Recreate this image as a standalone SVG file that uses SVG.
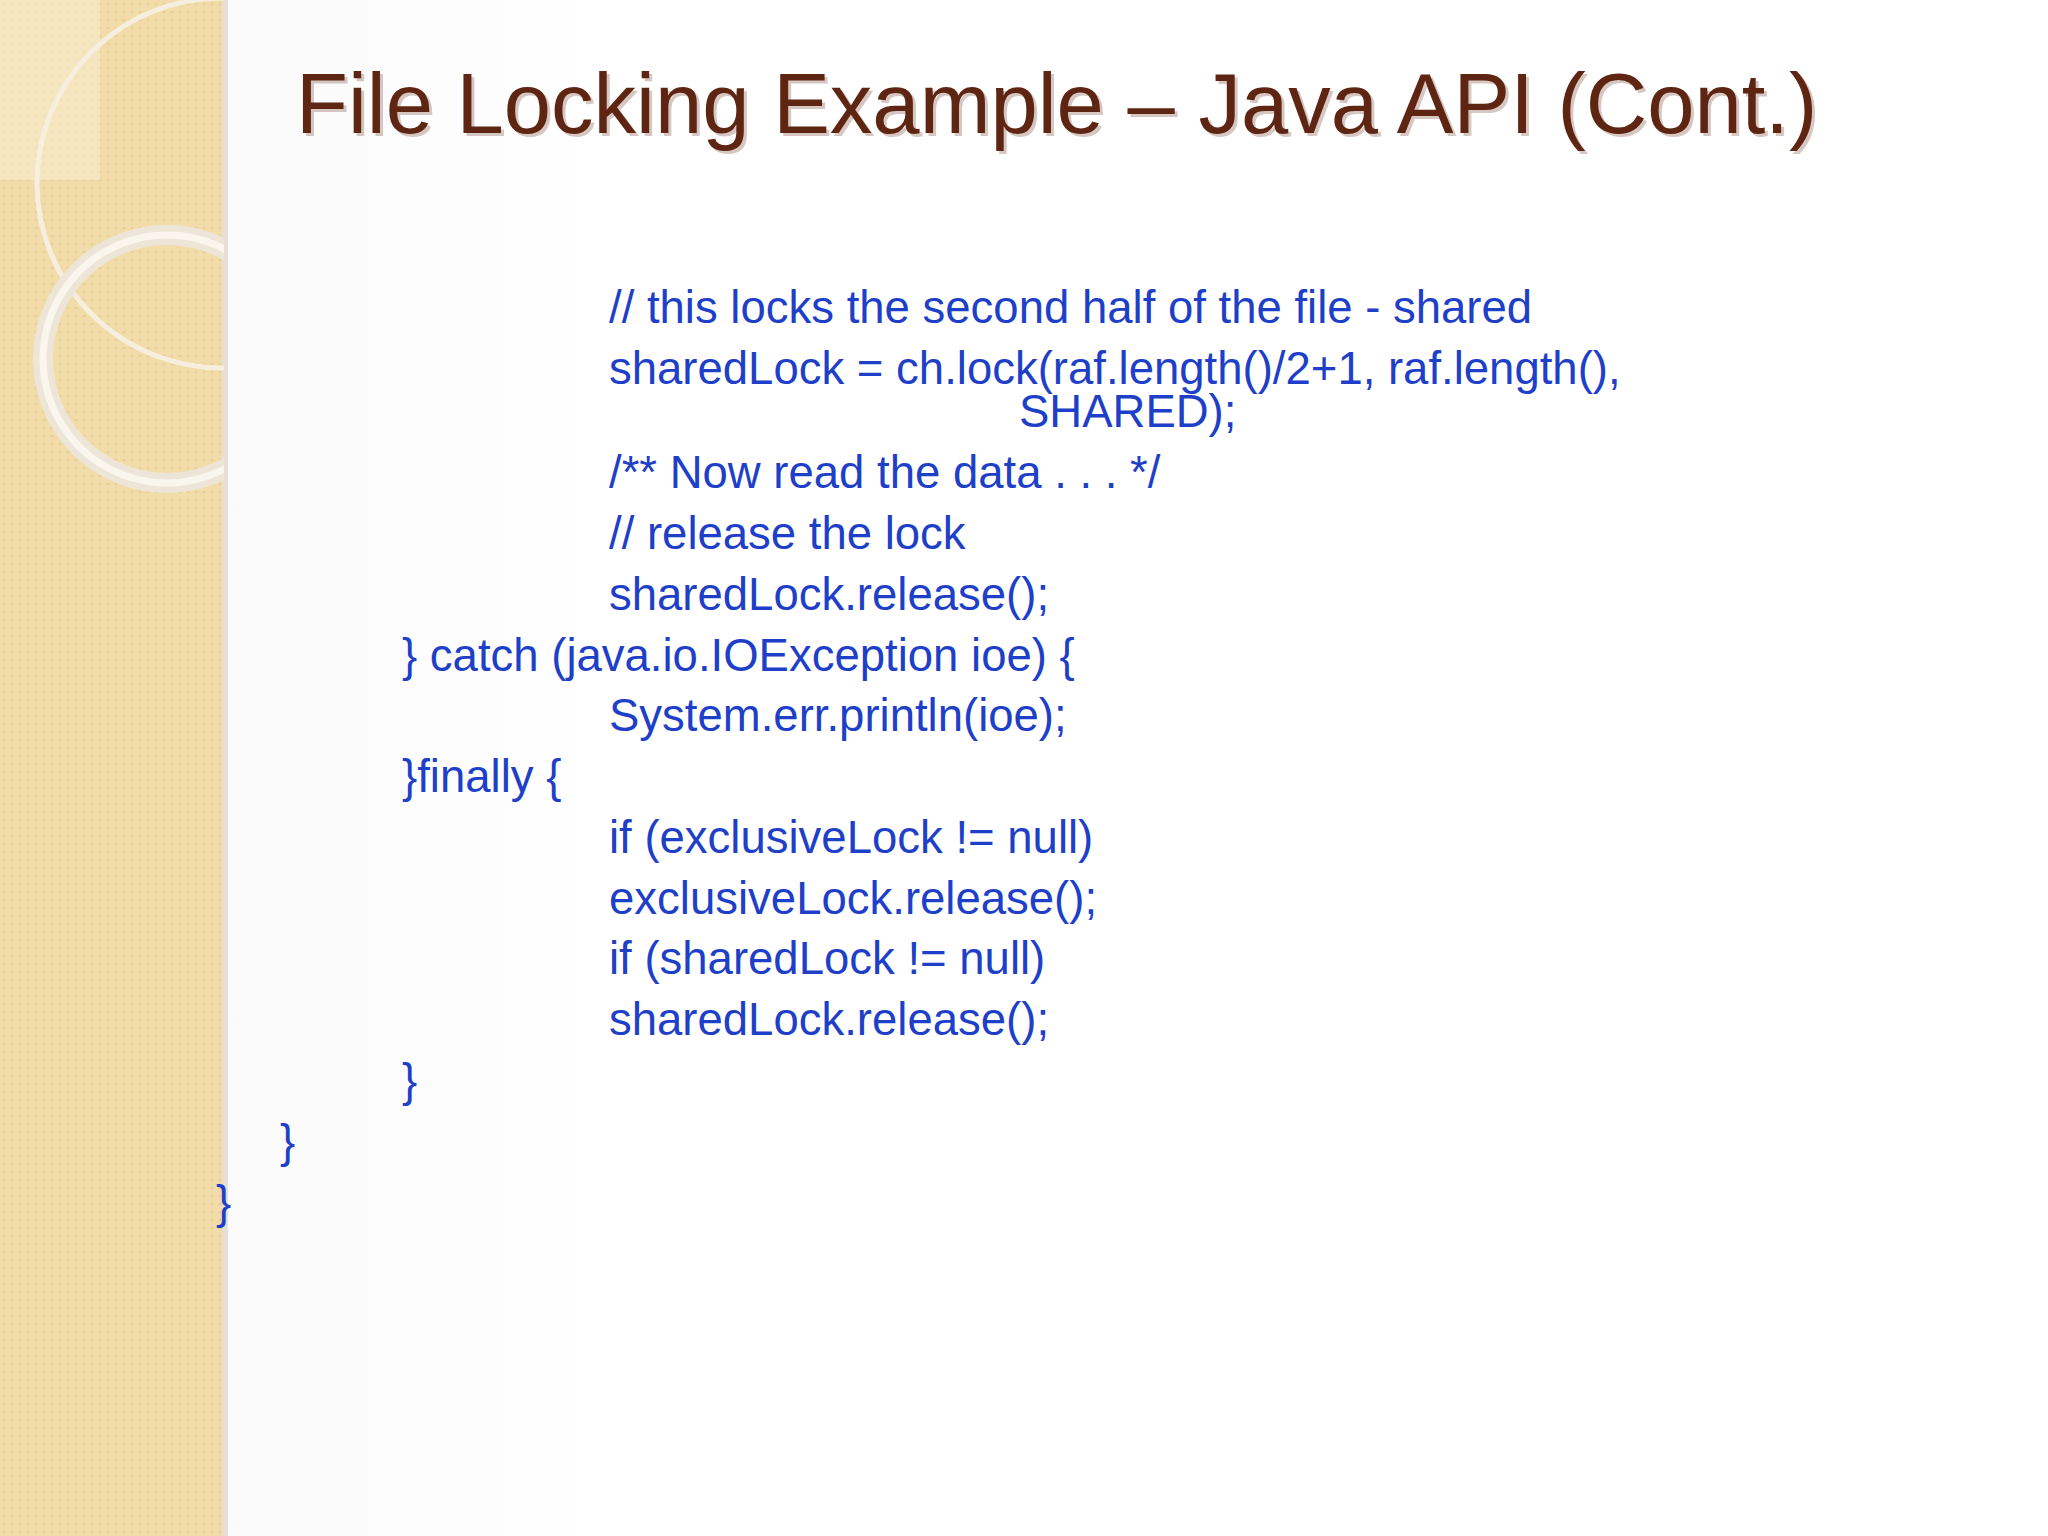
<svg xmlns="http://www.w3.org/2000/svg" width="2048" height="1536" viewBox="0 0 2048 1536">
<defs>
<pattern id="dots" width="8" height="8" patternUnits="userSpaceOnUse">
<rect width="8" height="8" fill="#F2DDAA"/>
<circle cx="4" cy="4" r="1.6" fill="#E8CF96"/>
</pattern>
<linearGradient id="bg" x1="0" y1="0" x2="1" y2="0">
<stop offset="0" stop-color="#F7F7F7"/><stop offset="0.3" stop-color="#FFFFFF"/>
</linearGradient>
<clipPath id="stripClip"><rect x="0" y="0" width="224" height="1536"/></clipPath>
</defs>
<style>
.code{font-family:"Liberation Sans",Arial,sans-serif;font-size:45.5px;fill:#1E40C8}
.title{font-family:"Liberation Sans",Arial,sans-serif;font-size:85px;fill:#5E2612}
</style>
<rect width="2048" height="1536" fill="url(#bg)"/>
<g id="strip">
<rect x="0" y="0" width="226" height="1536" fill="url(#dots)"/>
<rect x="0" y="0" width="100" height="180" fill="#F8ECCF" opacity="0.6"/>
<rect x="222" y="0" width="6" height="1536" fill="#E4E0D8"/>
<g clip-path="url(#stripClip)">
<circle cx="222" cy="183" r="185" fill="none" stroke="#F6EFE0" stroke-width="5"/>
<circle cx="167" cy="359" r="124" fill="none" stroke="#EDE6D8" stroke-width="20"/>
<circle cx="167" cy="359" r="124" fill="none" stroke="#FAF6EE" stroke-width="7"/>
</g>
</g>
<g id="title">
<text class="title" x="296" y="133" fill="#000" opacity="0.25" transform="translate(3,3)">File Locking Example – Java API (Cont.)</text>
<text class="title" x="296" y="133">File Locking Example – Java API (Cont.)</text>
</g>
<g id="code">
<text class="code" x="609" y="323">// this locks the second half of the file - shared</text>
<text class="code" x="609" y="384">sharedLock = ch.lock(raf.length()/2+1, raf.length(),</text>
<text class="code" x="1019" y="427">SHARED);</text>
<text class="code" x="609" y="488">/** Now read the data . . . */</text>
<text class="code" x="609" y="549">// release the lock</text>
<text class="code" x="609" y="610">sharedLock.release();</text>
<text class="code" x="402" y="671">} catch (java.io.IOException ioe) {</text>
<text class="code" x="609" y="731">System.err.println(ioe);</text>
<text class="code" x="402" y="792">}finally {</text>
<text class="code" x="609" y="853">if (exclusiveLock != null)</text>
<text class="code" x="609" y="914">exclusiveLock.release();</text>
<text class="code" x="609" y="974">if (sharedLock != null)</text>
<text class="code" x="609" y="1035">sharedLock.release();</text>
<text class="code" x="402" y="1096">}</text>
<text class="code" x="280" y="1157">}</text>
<text class="code" x="216" y="1218">}</text>
</g>
</svg>
